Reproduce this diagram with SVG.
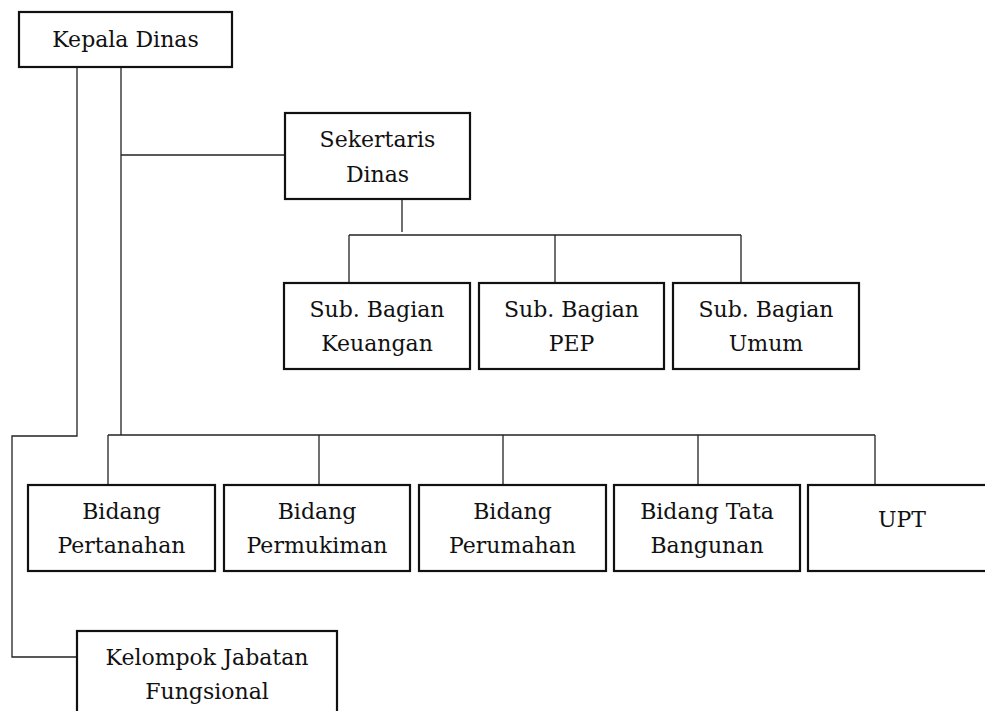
<svg xmlns="http://www.w3.org/2000/svg" width="985" height="711" viewBox="0 0 985 711">
<style>
.box{fill:#fff;stroke:#111;stroke-width:2.2}
.ln{fill:none;stroke:#222;stroke-width:1.3}
.t{font-family:'DejaVu Serif','Liberation Serif',serif;font-size:22px;fill:#111;text-anchor:middle}
</style>
<rect width="985" height="711" fill="#fff"/>
<g id="connectors">
<polyline class="ln" points="77,68 77,436 12,436 12,657 77,657"/>
<line class="ln" x1="121" y1="68" x2="121" y2="435"/>
<line class="ln" x1="121" y1="155" x2="285" y2="155"/>
<line class="ln" x1="108" y1="435" x2="875" y2="435"/>
<line class="ln" x1="108" y1="435" x2="108" y2="485"/>
<line class="ln" x1="319" y1="435" x2="319" y2="485"/>
<line class="ln" x1="503" y1="435" x2="503" y2="485"/>
<line class="ln" x1="698" y1="435" x2="698" y2="485"/>
<line class="ln" x1="875" y1="435" x2="875" y2="485"/>
<line class="ln" x1="402" y1="199" x2="402" y2="232"/>
<line class="ln" x1="349" y1="235" x2="741" y2="235"/>
<line class="ln" x1="349" y1="235" x2="349" y2="283"/>
<line class="ln" x1="555" y1="235" x2="555" y2="283"/>
<line class="ln" x1="741" y1="235" x2="741" y2="283"/>
</g>
<g class="t">
<g id="kepala-dinas">
<rect class="box" x="19" y="12" width="213" height="55"/>
<text x="125.5" y="47">Kepala Dinas</text>
</g>
<g id="sekertaris-dinas">
<rect class="box" x="285" y="113" width="185" height="86"/>
<text x="377.5" y="147">Sekertaris</text>
<text x="377.5" y="182">Dinas</text>
</g>
<g id="sub-keuangan">
<rect class="box" x="284" y="283" width="186" height="86"/>
<text x="377" y="317">Sub. Bagian</text>
<text x="377" y="351">Keuangan</text>
</g>
<g id="sub-pep">
<rect class="box" x="479" y="283" width="185" height="86"/>
<text x="571.5" y="317">Sub. Bagian</text>
<text x="571.5" y="351">PEP</text>
</g>
<g id="sub-umum">
<rect class="box" x="673" y="283" width="186" height="86"/>
<text x="766" y="317">Sub. Bagian</text>
<text x="766" y="351">Umum</text>
</g>
<g id="bidang-pertanahan">
<rect class="box" x="28" y="485" width="187" height="86"/>
<text x="121.5" y="519">Bidang</text>
<text x="121.5" y="553">Pertanahan</text>
</g>
<g id="bidang-permukiman">
<rect class="box" x="224" y="485" width="186" height="86"/>
<text x="317" y="519">Bidang</text>
<text x="317" y="553">Permukiman</text>
</g>
<g id="bidang-perumahan">
<rect class="box" x="419" y="485" width="187" height="86"/>
<text x="512.5" y="519">Bidang</text>
<text x="512.5" y="553">Perumahan</text>
</g>
<g id="bidang-tata-bangunan">
<rect class="box" x="614" y="485" width="186" height="86"/>
<text x="707" y="519">Bidang Tata</text>
<text x="707" y="553">Bangunan</text>
</g>
<g id="upt">
<rect class="box" x="808" y="485" width="188" height="86"/>
<text x="902" y="527">UPT</text>
</g>
<g id="kelompok-jabatan-fungsional">
<rect class="box" x="77" y="631" width="260" height="90"/>
<text x="207" y="665">Kelompok Jabatan</text>
<text x="207" y="699">Fungsional</text>
</g>
</g>
</svg>
